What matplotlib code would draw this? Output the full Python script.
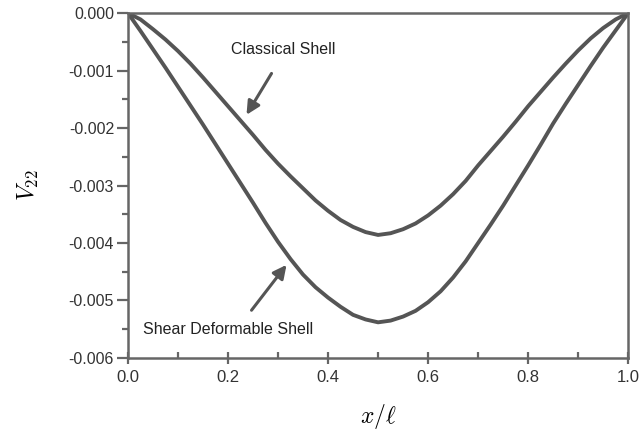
import matplotlib
matplotlib.use("Agg")
import matplotlib.pyplot as plt
from matplotlib.ticker import MultipleLocator, FormatStrFormatter

plt.rcParams["font.family"] = ["Liberation Sans", "DejaVu Sans"]
plt.rcParams["mathtext.fontset"] = "cm"
plt.rcParams["axes.unicode_minus"] = False

x = [0.0, 0.025, 0.05, 0.075, 0.1, 0.125, 0.15, 0.175, 0.2, 0.225, 0.25,
     0.275, 0.3, 0.325, 0.35, 0.375, 0.4, 0.425, 0.45, 0.475, 0.5,
     0.525, 0.55, 0.575, 0.6, 0.625, 0.65, 0.675, 0.7, 0.725, 0.75,
     0.775, 0.8, 0.825, 0.85, 0.875, 0.9, 0.925, 0.95, 0.975, 1.0]
classical = [0.0, -0.00011, -0.00028, -0.00046, -0.00066, -0.00088, -0.00112,
             -0.00137, -0.00162, -0.00187, -0.00212, -0.00238, -0.00262,
             -0.00284, -0.00305, -0.00326, -0.00344, -0.00360, -0.00372,
             -0.00381, -0.00386, -0.00383, -0.00376, -0.00366, -0.00352,
             -0.00335, -0.00315, -0.00292, -0.00265, -0.00240, -0.00215,
             -0.00189, -0.00162, -0.00137, -0.00112, -0.00088, -0.00065,
             -0.00044, -0.00026, -0.00011, 0.0]
shear = [0.0, -0.00031, -0.00063, -0.00095, -0.00128, -0.00161, -0.00194,
         -0.00228, -0.00262, -0.00296, -0.00330, -0.00365, -0.00398,
         -0.00428, -0.00455, -0.00477, -0.00495, -0.00511, -0.00525,
         -0.00533, -0.00538, -0.00535, -0.00528, -0.00518, -0.00503,
         -0.00484, -0.00460, -0.00432, -0.00400, -0.00368, -0.00335,
         -0.00300, -0.00265, -0.00229, -0.00192, -0.00158, -0.00125,
         -0.00092, -0.00060, -0.00030, 0.0]

line_col = "#555555"
axis_col = "#666666"

fig = plt.figure(figsize=(6.43, 4.36), dpi=100)
ax = fig.add_axes([0.199, 0.179, 0.778, 0.791])

ax.plot(x, classical, color=line_col, lw=2.8, solid_joinstyle="round")
ax.plot(x, shear, color=line_col, lw=2.8, solid_joinstyle="round")

ax.set_xlim(0, 1)
ax.set_ylim(-0.006, 0)
ax.xaxis.set_major_locator(MultipleLocator(0.2))
ax.xaxis.set_minor_locator(MultipleLocator(0.1))
ax.yaxis.set_major_locator(MultipleLocator(0.001))
ax.yaxis.set_minor_locator(MultipleLocator(0.0005))
ax.xaxis.set_major_formatter(FormatStrFormatter("%.1f"))
ax.yaxis.set_major_formatter(FormatStrFormatter("%.3f"))

for s in ax.spines.values():
    s.set_color(axis_col)
    s.set_linewidth(1.8)

ax.tick_params(axis="y", which="major", direction="out", length=8, width=1.6,
               color=axis_col, labelsize=11.5, pad=2)
ax.tick_params(axis="y", which="minor", direction="out", length=4, width=1.6,
               color=axis_col)
ax.tick_params(axis="x", which="major", direction="inout", length=8, width=1.6,
               color=axis_col, labelsize=12, pad=5)
ax.tick_params(axis="x", which="minor", direction="in", length=4, width=1.6,
               color=axis_col)
for lab in ax.get_xticklabels() + ax.get_yticklabels():
    lab.set_color("#333333")

ax.set_xlabel(r"$x/\ell$", fontsize=17, labelpad=12)
ax.set_ylabel(r"$V_{22}$", fontsize=17, labelpad=20)

# labels and arrows
ax.text(0.31, -0.00064, "Classical Shell", ha="center", va="center",
        fontsize=11.5, color="#222222")
ax.text(0.2, -0.0055, "Shear Deformable Shell", ha="center", va="center",
        fontsize=11.5, color="#222222")
arrow = dict(arrowstyle="-|>", color=line_col, lw=2.2, mutation_scale=20,
             shrinkA=0, shrinkB=0)
ax.annotate("", xy=(0.237, -0.00177), xytext=(0.287, -0.00105),
            arrowprops=arrow)
ax.annotate("", xy=(0.317, -0.00438), xytext=(0.247, -0.00517),
            arrowprops=arrow)

fig.savefig("out.png", dpi=100)
